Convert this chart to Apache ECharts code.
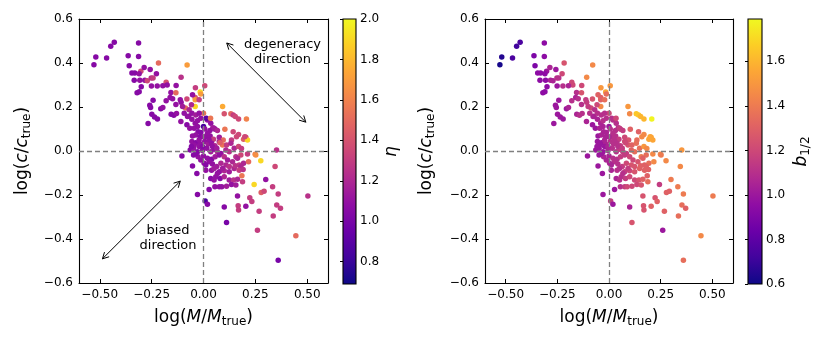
<!DOCTYPE html>
<html><head><meta charset="utf-8">
<script src="https://cdn.jsdelivr.net/npm/echarts@6/dist/echarts.min.js"></script>
<style>html,body{margin:0;padding:0;background:#fff}#c{width:830px;height:342px}</style>
</head><body><div id="c"></div>
<script>
// ---- data: log(M/M_true), log(c/c_true), eta, b_1/2 ----
const logM = [
-0.430,-0.447,-0.313,-0.519,-0.528,-0.467,-0.363,-0.313,-0.358,-0.217,-0.079,-0.345,-0.331,-0.302,-0.286,-0.257,-0.227,-0.310,-0.334,-0.307,
-0.283,-0.271,-0.252,-0.243,-0.180,-0.108,-0.175,-0.300,-0.251,-0.223,-0.196,-0.132,-0.320,-0.310,-0.157,-0.133,-0.039,0.006,-0.016,
-0.013,-0.243,-0.161,-0.149,-0.180,-0.080,-0.040,-0.040,-0.259,-0.255,-0.206,-0.196,-0.133,-0.108,-0.087,-0.069,-0.040,-0.249,-0.236,-0.267,
-0.222,-0.156,-0.143,-0.130,-0.109,-0.072,0.000,0.030,0.092,0.100,0.132,0.143,0.207,0.153,0.169,
-0.056,-0.037,-0.021,-0.013,-0.029,-0.077,-0.093,-0.101,-0.058,-0.112,-0.021,-0.053,-0.080,
-0.056,-0.040,-0.029,0.000,0.019,0.035,0.045,0.056,0.013,0.034,
-0.066,-0.045,-0.026,0.006,0.031,0.051,0.067,0.103,0.143,0.169,0.204,
-0.053,-0.037,-0.016,0.011,0.032,0.048,0.076,0.095,0.135,0.159,0.193,0.212,0.199,
-0.056,-0.037,-0.016,0.006,0.022,0.039,0.055,0.076,0.092,0.111,0.132,0.148,0.169,0.183,0.080,
-0.064,-0.048,-0.029,-0.005,0.016,0.035,0.051,0.067,0.084,0.108,0.124,0.156,0.180,0.212,0.249,0.352,-0.021,-0.045,
-0.104,-0.048,-0.026,0.000,0.019,0.039,0.056,0.076,0.100,0.116,0.140,0.164,0.276,0.252,
-0.053,0.003,0.027,0.043,0.064,0.084,0.108,0.124,0.148,0.172,0.193,0.345,0.217,
-0.032,0.011,0.039,0.051,0.076,0.100,0.124,0.153,0.180,0.172,0.191,0.185,
0.035,0.059,0.080,0.100,0.124,0.145,0.164,0.188,0.244,0.300,
0.055,0.076,0.088,0.111,0.135,0.156,0.278,0.292,0.333,0.027,
-0.029,0.008,0.019,0.164,0.223,0.233,0.360,0.503,0.167,0.169,0.204,0.100,0.268,0.353,0.371,0.336,0.111,0.260,0.445,0.360,
-0.021,-0.013,0.019,-0.005,0.027,0.043,0.064,-0.037,-0.013,0.011,0.067,0.092,0.051,-0.058,0.000
];
const logC = [
0.494,0.476,0.491,0.427,0.392,0.423,0.433,0.430,0.388,0.400,0.391,0.354,0.354,0.362,0.380,0.370,0.351,0.351,0.322,0.322,
0.322,0.319,0.332,0.332,0.312,0.335,0.300,0.292,0.295,0.295,0.297,0.298,0.265,0.269,0.266,0.265,0.287,0.297,0.268,
0.259,0.231,0.243,0.237,0.228,0.236,0.243,0.233,0.208,0.198,0.192,0.198,0.211,0.222,0.195,0.187,0.202,0.167,0.154,0.125,
0.146,0.167,0.163,0.170,0.134,0.158,0.172,0.146,0.202,0.169,0.169,0.164,0.146,0.157,0.146,
0.172,0.164,0.172,0.149,0.111,0.157,0.172,0.202,0.210,0.233,0.233,0.256,0.119,
0.144,0.126,0.138,0.111,0.141,0.126,0.106,0.099,0.149,0.149,
0.103,0.103,0.088,0.100,0.093,0.103,0.093,0.099,0.087,0.075,0.062,
0.068,0.073,0.065,0.065,0.068,0.053,0.062,0.050,0.050,0.065,0.053,0.050,0.065,
0.043,0.038,0.032,0.043,0.032,0.035,0.024,0.043,0.027,0.027,0.035,0.012,0.020,0.011,0.038,
0.005,0.012,-0.003,0.002,0.012,-0.003,0.008,-0.003,-0.011,0.005,-0.003,-0.026,-0.018,-0.014,-0.015,0.005,0.020,0.027,
-0.023,-0.018,-0.026,-0.023,-0.033,-0.038,-0.026,-0.018,-0.026,-0.041,-0.049,-0.033,-0.044,-0.018,
-0.068,-0.056,-0.049,-0.059,-0.071,-0.056,-0.064,-0.071,-0.079,-0.064,-0.056,-0.071,-0.049,
-0.102,-0.087,-0.087,-0.079,-0.094,-0.090,-0.094,-0.067,-0.071,-0.087,-0.084,-0.113,
-0.125,-0.117,-0.125,-0.117,-0.132,-0.132,-0.128,-0.140,-0.152,-0.129,
-0.163,-0.163,-0.163,-0.160,-0.152,-0.155,-0.189,-0.183,-0.163,-0.175,
-0.198,-0.227,-0.242,-0.204,-0.213,-0.230,-0.195,-0.205,-0.249,-0.268,-0.251,-0.254,-0.274,-0.246,-0.260,-0.295,-0.325,-0.360,-0.385,-0.497,
0.050,0.084,0.081,0.020,0.050,0.020,0.012,-0.011,-0.041,-0.064,-0.102,-0.079,-0.132,0.020,0.065
];
const eta = [
1.05,1.05,1.05,1.05,1.05,1.05,1.05,1.05,1.05,1.50,1.70,1.05,1.05,1.35,1.10,1.10,1.10,1.10,1.05,1.10,
1.10,1.35,1.25,1.30,1.40,1.25,1.10,1.05,1.10,1.10,1.10,1.10,1.05,1.05,1.10,1.50,1.30,1.35,1.90,
1.70,1.05,1.10,1.10,1.10,1.35,1.40,1.70,1.05,1.05,1.05,1.10,1.10,1.10,1.50,1.20,1.90,1.05,1.05,1.05,
1.05,1.05,1.05,1.10,1.10,1.10,1.55,1.65,1.75,1.40,1.50,1.30,1.60,1.35,1.35,
1.10,1.15,1.10,1.10,1.10,1.10,1.10,1.15,1.20,1.10,1.30,1.10,1.05,
1.10,1.10,1.10,0.85,1.10,1.10,1.15,1.10,0.90,1.55,
1.10,1.10,1.05,1.10,1.10,1.15,1.20,1.55,1.35,1.35,1.35,
1.10,1.10,1.05,1.10,1.10,1.30,1.15,1.50,1.30,1.35,1.45,1.90,1.35,
1.10,1.05,1.10,1.10,1.15,1.10,1.20,1.20,1.55,1.30,1.20,1.20,1.35,1.30,1.45,
1.05,1.10,1.05,1.10,1.10,1.15,1.10,1.20,1.10,1.20,1.25,1.25,1.35,1.30,1.60,1.25,1.10,1.10,
1.05,1.05,1.10,1.10,1.10,1.05,1.15,1.10,1.25,1.15,1.20,1.20,1.90,1.65,
1.05,1.10,1.10,1.10,1.15,1.20,1.20,1.25,1.20,1.30,1.20,1.35,1.50,
1.05,1.10,1.10,1.15,1.10,1.20,1.15,1.25,1.20,1.30,1.25,1.55,
1.05,1.10,1.05,1.20,1.15,1.25,1.20,1.30,1.90,1.10,
1.10,1.10,1.10,1.15,1.10,1.15,1.45,1.35,1.30,1.05,
1.05,0.85,1.05,1.10,1.30,1.30,1.30,1.25,1.30,1.30,1.10,1.05,1.30,1.30,1.30,1.30,1.00,1.30,1.50,1.00,
1.10,1.05,1.10,1.05,1.10,1.10,1.15,1.05,1.10,1.05,1.10,1.15,1.10,1.05,1.10
];
const b12 = [
0.75,0.72,0.95,0.65,0.62,0.75,0.90,0.95,0.90,1.25,1.45,0.95,0.95,1.00,1.05,1.00,1.20,0.95,0.95,0.95,
1.05,1.05,1.10,1.10,1.20,1.45,1.20,0.95,1.00,1.10,1.05,1.20,0.95,0.95,1.10,1.25,1.50,1.50,1.55,
1.35,1.00,1.05,1.10,1.10,1.25,1.30,1.30,1.00,1.00,1.00,1.05,1.10,1.15,1.20,1.10,1.45,1.00,1.00,1.00,
1.00,1.05,1.10,1.10,1.05,1.10,1.20,1.25,1.50,1.45,1.65,1.65,1.78,1.60,1.60,
1.10,1.10,1.10,1.10,1.05,1.05,1.10,1.15,1.20,1.15,1.35,1.30,1.00,
1.05,1.05,1.10,1.00,1.10,1.10,1.10,1.15,1.10,1.20,
1.00,1.05,1.05,1.10,1.10,1.15,1.15,1.30,1.30,1.45,1.55,
1.00,1.05,1.05,1.10,1.10,1.15,1.20,1.25,1.35,1.45,1.55,1.55,1.55,
1.00,1.00,1.05,1.10,1.10,1.10,1.15,1.20,1.25,1.30,1.35,1.35,1.50,1.45,1.20,
1.00,1.00,1.00,1.05,1.10,1.10,1.15,1.15,1.15,1.30,1.35,1.40,1.35,1.45,1.45,1.50,1.00,1.00,
1.00,1.00,1.05,1.05,1.10,1.10,1.15,1.15,1.20,1.20,1.25,1.30,1.45,1.40,
1.00,1.05,1.10,1.10,1.15,1.20,1.25,1.25,1.30,1.30,1.35,1.45,1.45,
1.00,1.05,1.10,1.10,1.15,1.20,1.25,1.30,1.30,1.30,1.30,1.30,
1.05,1.10,1.15,1.20,1.20,1.25,1.30,1.35,1.15,1.40,
1.10,1.15,1.20,1.20,1.20,1.25,1.30,1.30,1.40,1.00,
1.00,1.15,1.00,1.25,1.25,1.30,1.40,1.40,1.25,1.25,1.30,1.05,1.30,1.35,1.30,1.35,1.25,1.00,1.45,1.35,
1.05,1.05,1.10,1.05,1.10,1.10,1.15,1.00,1.05,1.05,1.10,1.15,1.10,1.00,1.05
];
// ---- axes / ticks ----
const xRange = [-0.6, 0.6];
const yRange = [-0.6, 0.6];
const xTicks = [-0.5, -0.25, 0, 0.25, 0.5];
const yTicks = [-0.6, -0.4, -0.2, 0, 0.2, 0.4, 0.6];
const etaRange = [0.69, 2.0];
const etaTicks = [0.8, 1.0, 1.2, 1.4, 1.6, 1.8, 2.0];
const bRange = [0.6, 1.79];
const bTicks = [0.6, 0.8, 1.0, 1.2, 1.4, 1.6];
// ---- annotations (data coords of left panel) ----
const annArrows = [[[0.112, 0.491], [0.493, 0.131]], [[-0.487, -0.490], [-0.112, -0.137]]];
const annTexts = ['degeneracy\ndirection', 'biased\ndirection'];
const annTextPos = [[0.381, 0.450], [-0.171, -0.395]];

const FONT = 'DejaVu Sans';
const plasma = ['#0d0887','#41049d','#6a00a8','#8f0da4','#b12a90','#cc4778','#e16462','#f2844b','#fca636','#fcce25','#f0f921'];

const ptsEta = logM.map((x, i) => [x, logC[i], eta[i]]);
const ptsB = logM.map((x, i) => [x, logC[i], b12[i]]);

const fmtX = v => (v < -1e-9 ? '\u2212' : '') + Math.abs(v).toFixed(2);
const fmtY = v => (v < -1e-9 ? '\u2212' : '') + Math.abs(v).toFixed(1);

const line = { show: true, onZero: false, lineStyle: { color: '#000', width: 1.1 } };
function mainX(grid, pos, labels) {
  return {
    type: 'value', gridIndex: grid, position: pos, min: xRange[0], max: xRange[1],
    axisLine: line, splitLine: { show: false },
    axisTick: { show: true, inside: true, length: 4, customValues: xTicks, lineStyle: { color: '#000' } },
    axisLabel: { show: labels, customValues: xTicks, formatter: fmtX, color: '#000', fontFamily: FONT, fontSize: 12, margin: 6 },
    name: labels ? '{a|log(}{i|M}{a|/}{i|M}{s|true}{a|)}' : '', nameLocation: 'middle', nameGap: 24,
    nameTextStyle: { color: '#000', rich: {
      a: { fontFamily: FONT, fontSize: 17, color: '#000' },
      i: { fontFamily: FONT, fontSize: 17, fontStyle: 'italic', color: '#000' },
      s: { fontFamily: FONT, fontSize: 12, color: '#000', padding: [9, 0, 0, 0] } } }
  };
}
function mainY(grid, pos, labels, gap) {
  return {
    type: 'value', gridIndex: grid, position: pos, min: yRange[0], max: yRange[1],
    axisLine: line, splitLine: { show: false },
    axisTick: { show: true, inside: true, length: 4, customValues: yTicks, lineStyle: { color: '#000' } },
    axisLabel: { show: labels, customValues: yTicks, formatter: fmtY, color: '#000', fontFamily: FONT, fontSize: 12, margin: 6 },
    name: labels ? '{a|log(}{i|c}{a|/}{i|c}{s|true}{a|)}' : '', nameLocation: 'middle', nameGap: gap, nameRotate: 90,
    nameTextStyle: { color: '#000', rich: {
      a: { fontFamily: FONT, fontSize: 17, color: '#000' },
      i: { fontFamily: FONT, fontSize: 17, fontStyle: 'italic', color: '#000' },
      s: { fontFamily: FONT, fontSize: 12, color: '#000', padding: [9, 0, 0, 0] } } }
  };
}
function cbX(grid) { return { type: 'value', gridIndex: grid, min: 0, max: 1, show: false }; }
function cbY(grid, range, ticks, name, gap) {
  return {
    type: 'value', gridIndex: grid, position: 'right', min: range[0], max: range[1], z: 5,
    axisLine: { show: false }, splitLine: { show: false },
    axisTick: { show: true, inside: true, length: 3, customValues: ticks, lineStyle: { color: '#000' } },
    axisLabel: { show: true, customValues: ticks, formatter: v => v.toFixed(1), color: '#000', fontFamily: FONT, fontSize: 12, margin: 4 },
    name: name, nameLocation: 'middle', nameGap: gap, nameRotate: 90,
    nameTextStyle: { color: '#000', rich: {
      i: { fontFamily: FONT, fontSize: 17, fontStyle: 'italic', color: '#000' },
      s: { fontFamily: FONT, fontSize: 12, color: '#000', padding: [9, 0, 0, 0] } } }
  };
}
function cbSeries(axisIdx, range) {
  return {
    type: 'custom', xAxisIndex: axisIdx, yAxisIndex: axisIdx, silent: true, z: 1,
    data: [[0, range[0]]],
    renderItem: (params, api) => {
      const p0 = api.coord([0, range[1]]);
      const p1 = api.coord([1, range[0]]);
      const stops = plasma.map((c, i) => ({ offset: 1 - i / (plasma.length - 1), color: c })).reverse();
      return { type: 'rect', shape: { x: p0[0], y: p0[1], width: p1[0] - p0[0], height: p1[1] - p0[1] },
        style: { fill: new echarts.graphic.LinearGradient(0, 0, 0, 1, stops), stroke: '#000', lineWidth: 1.1 } };
    }
  };
}
const zeroLines = { silent: true, symbol: 'none', label: { show: false }, animation: false,
  lineStyle: { type: [5, 3], color: '#808080', width: 1.3 }, data: [{ xAxis: 0 }, { yAxis: 0 }] };

function chevron(tip, from, len) {
  const dx = tip[0] - from[0], dy = tip[1] - from[1];
  const L = Math.hypot(dx, dy), ux = dx / L, uy = dy / L;
  const a = 28 * Math.PI / 180;
  const r = (c, s) => [-(ux * c - uy * s) * len, -(uy * c + ux * s) * len];
  const A = r(Math.cos(a), Math.sin(a)), B = r(Math.cos(-a), Math.sin(-a));
  return [[tip[0] + A[0], tip[1] + A[1]], tip, [tip[0] + B[0], tip[1] + B[1]]];
}

const chart = echarts.init(document.getElementById('c'), null, { renderer: 'canvas' });
chart.setOption({
  animation: false,
  backgroundColor: '#fff',
  grid: [
    { left: 79, top: 19, width: 249, height: 264 },
    { left: 343, top: 19, width: 13, height: 265 },
    { left: 485, top: 19, width: 248, height: 264 },
    { left: 748, top: 19, width: 14, height: 265 }
  ],
  xAxis: [ mainX(0, 'bottom', true), mainX(0, 'top', false), cbX(1),
           mainX(2, 'bottom', true), mainX(2, 'top', false), cbX(3) ],
  yAxis: [ mainY(0, 'left', true, 46), mainY(0, 'right', false, 0),
           cbY(1, etaRange, etaTicks, '{i|\u03b7}', 27),
           mainY(2, 'left', true, 48), mainY(2, 'right', false, 0),
           cbY(3, bRange, bTicks, '{i|b}{s|1/2}', 29) ],
  visualMap: [
    { type: 'continuous', show: false, seriesIndex: 0, dimension: 2, min: etaRange[0], max: etaRange[1], inRange: { color: plasma } },
    { type: 'continuous', show: false, seriesIndex: 1, dimension: 2, min: bRange[0], max: bRange[1], inRange: { color: plasma } }
  ],
  series: [
    { type: 'scatter', xAxisIndex: 0, yAxisIndex: 0, data: ptsEta, symbolSize: 5.5, itemStyle: { opacity: 1 }, markLine: zeroLines },
    { type: 'scatter', xAxisIndex: 3, yAxisIndex: 3, data: ptsB, symbolSize: 5.5, itemStyle: { opacity: 1 }, markLine: zeroLines },
    { type: 'custom', xAxisIndex: 0, yAxisIndex: 0, silent: true, z: 4,
      data: annArrows.map((a, i) => [annTextPos[i][0], annTextPos[i][1]]),
      renderItem: (params, api) => {
        const i = params.dataIndex;
        const p = api.coord(annArrows[i][0]), q = api.coord(annArrows[i][1]);
        const t = api.coord(annTextPos[i]);
        const st = { stroke: '#000', lineWidth: 1, fill: 'none' };
        return { type: 'group', children: [
          { type: 'line', shape: { x1: p[0], y1: p[1], x2: q[0], y2: q[1] }, style: st },
          { type: 'polyline', shape: { points: chevron(p, q, 7) }, style: st },
          { type: 'polyline', shape: { points: chevron(q, p, 7) }, style: st },
          { type: 'text', style: { text: annTexts[i], x: t[0], y: t[1], align: 'center', verticalAlign: 'middle',
            fontFamily: FONT, fontSize: 13, lineHeight: 15, fill: '#000' } }
        ] };
      } },
    cbSeries(2, etaRange),
    cbSeries(5, bRange)
  ]
});
</script></body></html>
